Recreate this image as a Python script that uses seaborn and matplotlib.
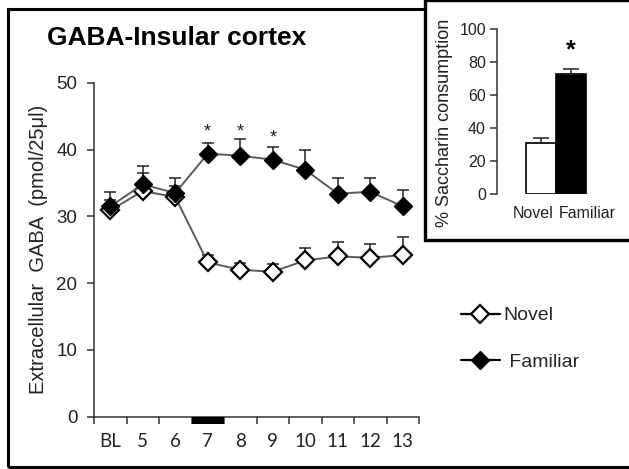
import numpy as np
import pandas as pd
import matplotlib
matplotlib.use("Agg")
import matplotlib.pyplot as plt
from matplotlib.lines import Line2D
from matplotlib.patches import Rectangle
import matplotlib.transforms as mtransforms
import seaborn as sns

# ---------------- data ----------------
timepoints = ["BL", "5", "6", "7", "8", "9", "10", "11", "12", "13"]
novel_mean = [30.9, 33.8, 32.9, 23.1, 22.0, 21.7, 23.4, 24.0, 23.8, 24.2]
novel_err = [1.6, 2.7, 1.6, 1.1, 1.0, 1.2, 1.9, 2.1, 2.0, 2.7]
familiar_mean = [31.5, 34.8, 33.5, 39.4, 39.1, 38.5, 37.0, 33.4, 33.7, 31.5]
familiar_err = [2.1, 2.7, 2.3, 1.6, 2.5, 1.9, 3.0, 2.4, 2.1, 2.5]
sig_points = ["7", "8", "9"]
sig_star_y = [42.6, 42.6, 41.8]
stim_point = "7"

inset_groups = ["Novel", "Familiar"]
inset_mean = [31.0, 72.8]
inset_err = [3.0, 3.0]
inset_star_y = 87.0

W, H = 629, 469
sns.set_theme(style="white")
plt.rcParams["font.family"] = ["Liberation Sans", "DejaVu Sans"]

fig = plt.figure(figsize=(W / 100, H / 100), dpi=100)
fig.patch.set_facecolor("white")


def px_axes(x0, y0, x1, y1):
    # pixel box (top-left origin) -> figure fraction
    return [x0 / W, 1 - y1 / H, (x1 - x0) / W, (y1 - y0) / H]


# ---------------- main axes ----------------
ax = fig.add_axes(px_axes(94, 83, 419, 416.5))
pos = np.arange(len(timepoints))
df = pd.DataFrame({
    "pos": np.concatenate([pos, pos]),
    "value": novel_mean + familiar_mean,
    "group": ["Novel"] * len(pos) + ["Familiar"] * len(pos),
})

line_col = "#5a5a5a"
ax.errorbar(pos, novel_mean, yerr=[np.zeros(len(pos)), novel_err], fmt="none",
            ecolor="#222222", elinewidth=1.1, capsize=4.5, capthick=1.1, zorder=2)
ax.errorbar(pos, familiar_mean, yerr=[np.zeros(len(pos)), familiar_err], fmt="none",
            ecolor="#222222", elinewidth=1.1, capsize=4.5, capthick=1.1, zorder=2)

sns.lineplot(data=df[df.group == "Novel"], x="pos", y="value", ax=ax,
             color=line_col, linewidth=1.4, marker="D", markersize=9,
             markerfacecolor="white", markeredgecolor="black", markeredgewidth=1.6,
             zorder=3)
sns.lineplot(data=df[df.group == "Familiar"], x="pos", y="value", ax=ax,
             color=line_col, linewidth=1.4, marker="D", markersize=9.5,
             markerfacecolor="black", markeredgecolor="black", markeredgewidth=1.0,
             zorder=4)

ax.set_xlim(-0.5, len(timepoints) - 0.5)
ax.set_ylim(0, 50)
ax.set_yticks([0, 10, 20, 30, 40, 50])
ax.set_xticks(np.arange(len(timepoints) + 1) - 0.5)
ax.set_xticklabels([])
ax.set_xticks(pos, minor=True)
ax.set_xticklabels(timepoints, minor=True, family=["Lato", "DejaVu Sans"], fontsize=13.5,
                   color="#222222")
ax.tick_params(axis="x", which="major", direction="out", length=5, width=1.1,
               color="#333333", bottom=True)
ax.tick_params(axis="x", which="minor", length=0, pad=12)
ax.tick_params(axis="y", direction="out", length=5, width=1.1, color="#333333",
               labelsize=13.5, pad=7, left=True, labelcolor="#222222")
for s in ["top", "right"]:
    ax.spines[s].set_visible(False)
for s in ["left", "bottom"]:
    ax.spines[s].set_color("#333333")
    ax.spines[s].set_linewidth(1.1)
ax.set_xlabel("")
ax.set_ylabel("Extracellular  GABA  (pmol/25\u03bcl)", fontsize=14.5, color="#222222",
              labelpad=6)

for tp, sy in zip(sig_points, sig_star_y):
    ax.text(timepoints.index(tp), sy, "*", ha="center", va="center", fontsize=13,
            color="#222222")

# stimulus bar under the axis
trans = mtransforms.blended_transform_factory(ax.transData, ax.transAxes)
si = timepoints.index(stim_point)
ax.add_patch(Rectangle((si - 0.5, -0.021), 1.0, 0.021, transform=trans,
                       facecolor="black", edgecolor="none", clip_on=False, zorder=5))

fig.text(47 / W, 1 - 38 / H, "GABA-Insular cortex", fontsize=19, fontweight="bold",
         ha="left", va="center", color="black")

# legend
handles = [
    Line2D([], [], color="black", linewidth=1.6, marker="D", markersize=9,
           markerfacecolor="white", markeredgecolor="black", markeredgewidth=1.6),
    Line2D([], [], color="black", linewidth=1.6, marker="D", markersize=9.5,
           markerfacecolor="black", markeredgecolor="black"),
]
fig.legend(handles, ["Novel", " Familiar"], loc="upper left",
           bbox_to_anchor=(453 / W, 1 - 299 / H), frameon=False, fontsize=14,
           handlelength=2.0, handletextpad=0.2, labelspacing=1.5, borderaxespad=0)

# ---------------- inset ----------------
box = Rectangle((425 / W, 1 - 240 / H), 1.0, 240 / H, transform=fig.transFigure,
                facecolor="white", edgecolor="black", linewidth=2.4, zorder=0)
fig.patches.append(box)

iax = fig.add_axes(px_axes(497, 29, 601, 194))
iax.set_zorder(10)
iax.patch.set_alpha(0)
sns.barplot(x=inset_groups, y=inset_mean, hue=inset_groups,
            palette=["white", "black"], edgecolor="black", linewidth=1.2,
            width=1.0, ax=iax, legend=False, errorbar=None)
iax.errorbar(np.arange(len(inset_groups)), inset_mean,
             yerr=[np.zeros(len(inset_groups)), inset_err], fmt="none",
             ecolor="#222222", elinewidth=1.1, capsize=6, capthick=1.1, zorder=1)
iax.set_xlim(-1.467, 2.0)
iax.set_ylim(0, 100)
iax.set_yticks([0, 20, 40, 60, 80, 100])
iax.tick_params(axis="y", direction="out", length=5, width=1.1, color="#333333",
                labelsize=11.5, pad=3, left=True, labelcolor="#222222")
iax.tick_params(axis="x", length=0, labelsize=11.5, pad=9, labelcolor="#222222")
# labels sit slightly outward from the bar centres, as in the reference
iax.set_xticks([-0.27, 1.55])
iax.set_xticklabels(inset_groups)
for s in ["top", "right", "bottom"]:
    iax.spines[s].set_visible(False)
iax.spines["left"].set_color("#333333")
iax.spines["left"].set_linewidth(1.1)
iax.set_ylabel("% Saccharin consumption", fontsize=13, color="#222222")
iax.yaxis.set_label_coords(-0.42, 0.43)
iax.text(1, inset_star_y, "*", ha="center", va="center", fontsize=18, fontweight="bold",
         color="black")

# outer frame
frame = Rectangle((8 / W, 2 / H), 1.0, 1 - 11 / H, transform=fig.transFigure,
                  facecolor="none", edgecolor="black", linewidth=2.2, zorder=-1)
fig.patches.append(frame)

fig.savefig("out.png", dpi=100, facecolor="white")
